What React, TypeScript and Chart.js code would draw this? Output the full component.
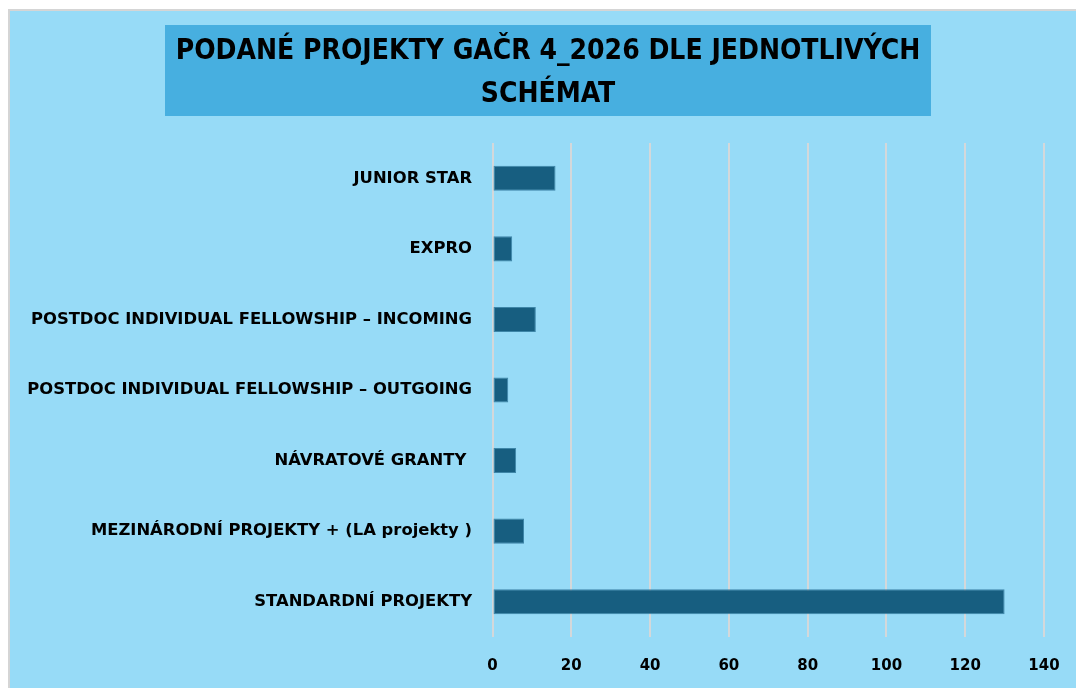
import React, { useEffect, useRef } from "react";
import { Chart, registerables } from "chart.js";

Chart.register(...registerables);

const categories = [
  "JUNIOR STAR",
  "EXPRO",
  "POSTDOC INDIVIDUAL FELLOWSHIP – INCOMING",
  "POSTDOC INDIVIDUAL FELLOWSHIP – OUTGOING",
  "NÁVRATOVÉ GRANTY ",
  "MEZINÁRODNÍ PROJEKTY + (LA projekty )",
  "STANDARDNÍ PROJEKTY",
];
const values = [16, 5, 11, 4, 6, 8, 130];
const titleLines = ["PODANÉ PROJEKTY GAČR 4_2026 DLE JEDNOTLIVÝCH", "SCHÉMAT"];
const xMin = 0;
const xMax = 140;
const xStep = 20;

const BG = "#97DBF7";
const TITLE_BG = "#47AFE0";
const BAR = "#175E80";
const GRID = "#D4D8DA";
const LABEL_FONT = "'DejaVu Sans', 'Liberation Sans', Arial, sans-serif";
const TITLE_FONT = "'DejaVu Sans Condensed', 'Liberation Sans', sans-serif";

const titleBoxPlugin = {
  id: "titleBox",
  afterLayout(chart: any) {
    // let the long category labels extend left without being clipped
    const y = chart.scales.y;
    if (y) y.left = 0;
  },
  beforeDraw(chart: any) {
    const tb = chart.titleBlock;
    if (!tb) return;
    const ctx = chart.ctx;
    const cx = (tb.left + tb.right) / 2;
    const w = 766;
    ctx.save();
    ctx.fillStyle = TITLE_BG;
    ctx.fillRect(cx - w / 2, 14, w, 91);
    ctx.restore();
  },
};

export default function App() {
  const ref = useRef<HTMLCanvasElement | null>(null);
  useEffect(() => {
    if (!ref.current) return;
    const chart = new Chart(ref.current, {
      type: "bar",
      data: {
        labels: categories,
        datasets: [
          {
            data: values,
            backgroundColor: BAR,
            borderColor: "#3E86A8",
            borderWidth: 1,
            borderSkipped: false,
            barPercentage: 0.355,
            categoryPercentage: 1,
          },
        ],
      },
      options: {
        indexAxis: "y",
        animation: false,
        responsive: true,
        maintainAspectRatio: false,
        layout: { padding: { left: 42, right: 32, top: 0, bottom: 0 } },
        plugins: {
          legend: { display: false },
          tooltip: { enabled: false },
          title: {
            display: true,
            text: titleLines,
            color: "#000000",
            font: { family: TITLE_FONT, size: 28, weight: "bold", lineHeight: 1.536 },
            padding: { top: 19, bottom: 27 },
          },
        },
        scales: {
          x: {
            min: xMin,
            max: xMax,
            ticks: {
              stepSize: xStep,
              color: "#000000",
              font: { family: LABEL_FONT, size: 15, weight: "bold" },
              padding: 20,
            },
            grid: { color: GRID, lineWidth: 2, drawTicks: false },
            border: { display: false },
            afterFit(scale: any) {
              scale.height = 51;
              scale.paddingLeft = 0;
              scale.paddingRight = 0;
            },
          },
          y: {
            ticks: {
              color: "#000000",
              font: { family: LABEL_FONT, size: 16.4, weight: "bold" },
              padding: 20.5,
              autoSkip: false,
            },
            grid: { display: false, drawTicks: false },
            border: { display: false },
            afterFit(scale: any) {
              scale.width = 440.5;
            },
          },
        },
      },
      plugins: [titleBoxPlugin],
    } as any);
    return () => chart.destroy();
  }, []);

  return (
    <div
      style={{
        position: "absolute",
        left: 8,
        top: 9,
        width: 1066,
        height: 677,
        borderLeft: "2px solid #D5D5D5",
        borderTop: "2px solid #D5D5D5",
        background: BG,
      }}
    >
      <div style={{ position: "relative", width: "100%", height: "100%" }}>
        <canvas ref={ref} />
      </div>
    </div>
  );
}
